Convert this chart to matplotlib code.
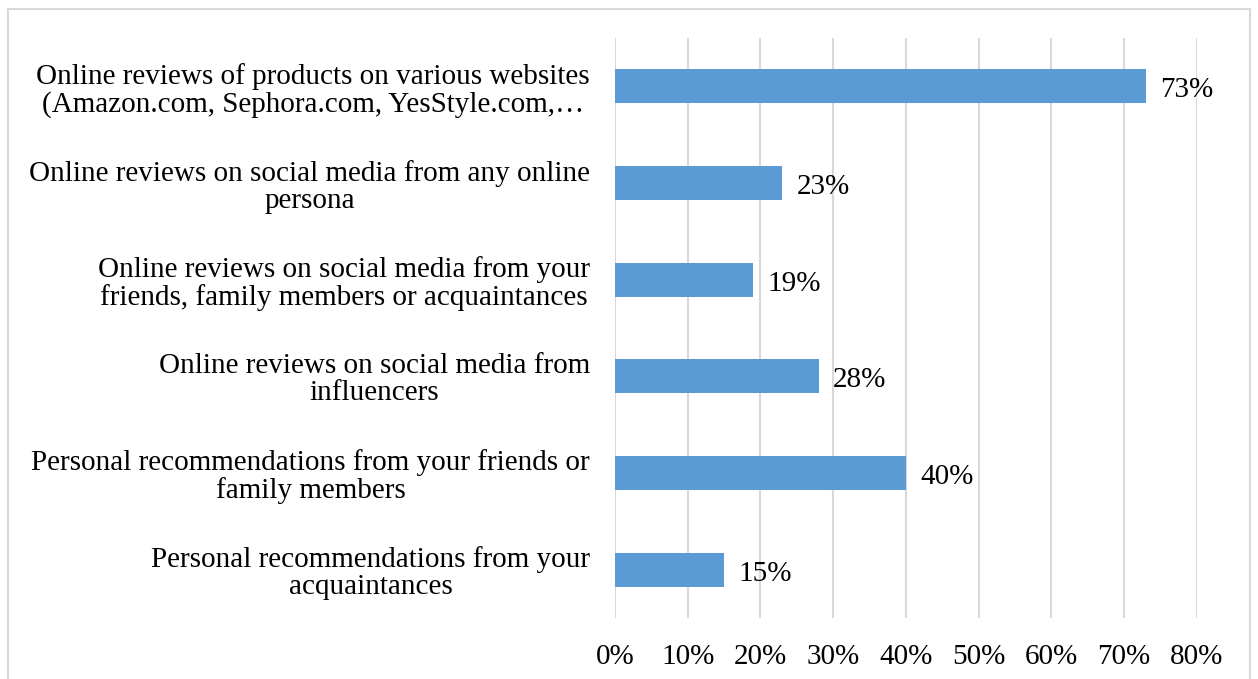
import matplotlib.pyplot as plt
from matplotlib.patches import Rectangle

# Survey answers, top to bottom
categories = [
    "Online reviews of products on various websites\n(Amazon.com, Sephora.com, YesStyle.com,\u2026",
    "Online reviews on social media from any online\npersona",
    "Online reviews on social media from your\nfriends, family members or acquaintances",
    "Online reviews on social media from\ninfluencers",
    "Personal recommendations from your friends or\nfamily members",
    "Personal recommendations from your\nacquaintances",
]
shares = [73, 23, 19, 28, 40, 15]
ticks = [0, 10, 20, 30, 40, 50, 60, 70, 80]
tick_labels = [f"{t}%" for t in ticks]


def main():
    plt.rcParams['font.family'] = ['Liberation Serif', 'DejaVu Serif']

    fig = plt.figure(figsize=(12.58, 6.79), dpi=100)
    ax = fig.add_axes([0.4889, 0.0898, 0.4623, 0.8542])

    # light frame around the whole chart
    fig.patches.append(Rectangle((8 / 1258, -0.05), 1242 / 1258, 1.05 - 9 / 679,
                                 transform=fig.transFigure, fill=False,
                                 edgecolor='#D9D9D9', linewidth=1.5))

    y = list(range(len(categories)))
    ax.barh(y, shares, height=0.35, color='#5B9BD5', zorder=3)
    for yi, v in zip(y, shares):
        ax.text(v + 2.0, yi + 0.04, f"{v}%", va='center', ha='left', fontsize=21)

    ax.set_ylim(len(categories) - 0.5, -0.5)
    ax.set_xlim(0, 80)
    ax.set_xticks(ticks)
    ax.set_xticklabels(tick_labels, fontsize=21)
    ax.set_yticks(y)
    ax.set_yticklabels(categories, fontsize=21, multialignment='center',
                       linespacing=1.05)
    ax.tick_params(axis='x', length=0, pad=19)
    ax.tick_params(axis='y', length=0, pad=18)

    ax.grid(axis='x', color='#D9D9D9', linewidth=1.5, zorder=0)
    for side in ax.spines.values():
        side.set_visible(False)

    plt.savefig('out.png', dpi=100)


if __name__ == "__main__":
    main()
